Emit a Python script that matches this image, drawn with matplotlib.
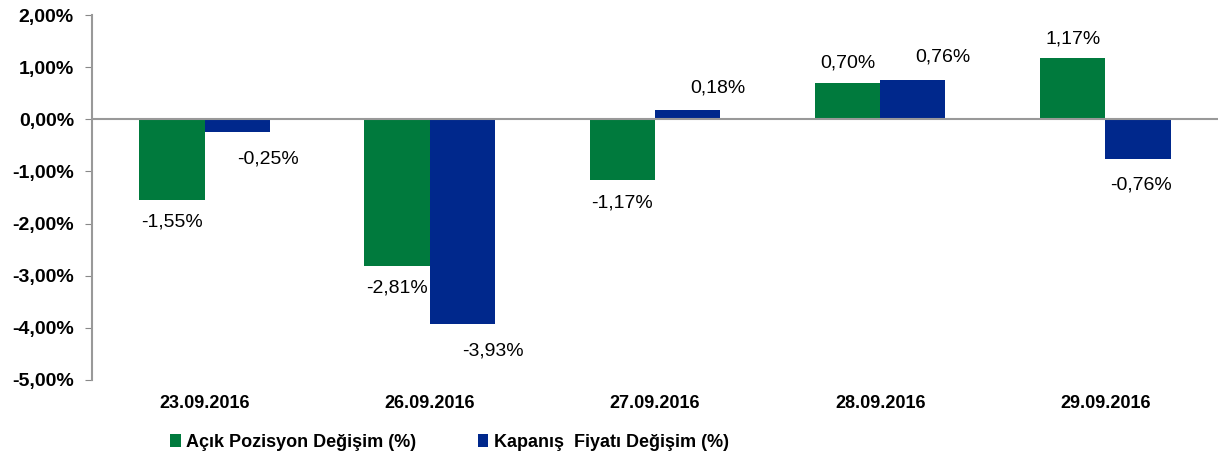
import matplotlib.pyplot as plt
import numpy as np

dates = ["23.09.2016", "26.09.2016", "27.09.2016", "28.09.2016", "29.09.2016"]
acik = [-1.55, -2.81, -1.17, 0.70, 1.17]
kapanis = [-0.25, -3.93, 0.18, 0.76, -0.76]
# horizontal label shift (points) for the blue series, as in the original
kap_shift = [22, 22, 22, 22, 2]

plt.rcParams["font.family"] = ["Liberation Sans", "DejaVu Sans"]

green = "#007a3d"
blue = "#00288c"

fig = plt.figure(figsize=(12.21, 4.63), dpi=100)
ax = fig.add_axes([0.0753, 0.1793, 0.9222, 0.7883])

x = np.arange(len(dates))
w = 0.29
b1 = ax.bar(x - w / 2, acik, w, color=green, label="Açık Pozisyon Değişim (%)")
b2 = ax.bar(x + w / 2, kapanis, w, color=blue, label="Kapanış  Fiyatı Değişim (%)")

def fmt(v):
    return f"{v:.2f}%".replace(".", ",")

for xi, v in zip(x - w / 2, acik):
    ax.annotate(fmt(v), (xi, v), xytext=(0, 14 if v > 0 else -16),
                textcoords="offset points", ha="center", va="center", fontsize=14)
for xi, v, s in zip(x + w / 2, kapanis, kap_shift):
    ax.annotate(fmt(v), (xi, v), xytext=(s, 16 if v > 0 else -19),
                textcoords="offset points", ha="center", va="center", fontsize=14)

ax.set_xlim(-0.5, len(dates) - 0.5)
ax.set_ylim(-5, 2)
ax.set_yticks(np.arange(-5, 2.01, 1))
ax.set_yticklabels([fmt(t) for t in np.arange(-5, 2.01, 1)], fontweight="bold", fontsize=14)
ax.set_xticks(x)
ax.set_xticklabels(dates, fontweight="bold", fontsize=13)
ax.tick_params(axis="x", length=0, pad=11)
ax.tick_params(axis="y", length=5, color="#888888", pad=8)
ax.axhline(0, color="#999999", lw=1.5, zorder=3)
for s in ["top", "right", "bottom"]:
    ax.spines[s].set_visible(False)
ax.spines["left"].set_color("#999999")
ax.spines["left"].set_linewidth(1.5)

leg = fig.legend(handles=[b1, b2], loc="center", bbox_to_anchor=(0.368, 0.045), ncol=2,
                 frameon=False, handlelength=0.6, handleheight=0.7, handletextpad=0.3,
                 columnspacing=3.4, prop={"weight": "bold", "size": 13})

fig.savefig("out.png", dpi=100)
